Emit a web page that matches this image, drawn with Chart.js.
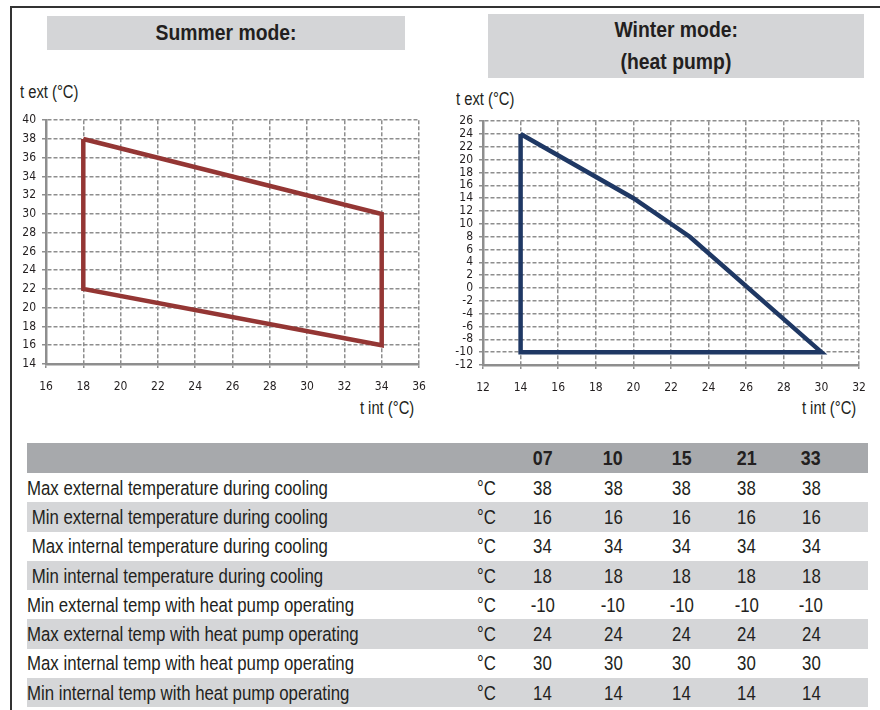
<!DOCTYPE html>
<html>
<head>
<meta charset="utf-8">
<script src="https://cdn.jsdelivr.net/npm/chart.js@4.4.1/dist/chart.umd.min.js"></script>
<style>
  body { margin: 0; background: #fff; width: 880px; height: 710px; overflow: hidden; position: relative;
         font-family: 'Liberation Sans', Arial, sans-serif; color: #231f20; }
  .frame-top { position: absolute; left: 10px; top: 6px; width: 870px; height: 0; border-top: 2px solid #333; }
  .frame-left { position: absolute; left: 10px; top: 6px; width: 0; height: 704px; border-left: 2px solid #333; }
  .head { position: absolute; background: #d4d5d7; font-weight: bold; font-size: 22px; text-align: center; color: #231f20; }
  .head span { display: inline-block; transform: scaleX(0.88); }
  .lbl { position: absolute; font-size: 18px; white-space: nowrap; transform: scaleX(0.82); }
  canvas { position: absolute; }
  table { position: absolute; left: 27px; top: 443px; width: 841px; border-collapse: collapse; table-layout: fixed; }
  td { padding: 0; height: 29.3px; font-size: 20.5px; white-space: pre; overflow: visible; }
  td span { display: inline-block; transform: scaleX(0.82); transform-origin: left center; }
  td.num span { transform-origin: center center; }
  tr.top td { background: #a7a9ac; font-weight: bold; font-size: 21px; height: 30px; }
  tr.top td span { transform: scaleX(0.85); }
  tr.alt td { background: #d5d6d8; }
  td.num { text-align: center; }
</style>
</head>
<body>
<div class="frame-top"></div>
<div class="frame-left"></div>

<div class="head" style="left:47px;top:16px;width:358px;height:34px;line-height:34px;"><span>Summer mode:</span></div>
<div class="head" style="left:488px;top:14px;width:376px;height:64px;line-height:32px;"><span>Winter mode:</span><br><span>(heat pump)</span></div>

<div class="lbl" style="left:20px;top:82px;transform-origin:left top;">t ext (°C)</div>
<div class="lbl" style="left:456px;top:89px;transform-origin:left top;">t ext (°C)</div>
<div class="lbl" style="right:466px;top:398px;transform-origin:right top;">t int (°C)</div>
<div class="lbl" style="right:24px;top:398px;transform-origin:right top;">t int (°C)</div>

<canvas id="summer" width="440" height="300" style="left:0;top:107px;"></canvas>
<canvas id="winter" width="440" height="300" style="left:440px;top:108px;"></canvas>

<table id="tab"></table>

<script>
// operating limits (t int on x, t ext on y)
var summerTint = [18, 34, 34, 18, 18];
var summerText = [38, 30, 16, 22, 38];
var winterTint = [14, 20, 23, 30, 14, 14];
var winterText = [24, 14, 8, -10, -10, 24];

// table
var models = ['07', '10', '15', '21', '33'];
var rowLabels = [
  'Max external temperature during cooling',
  ' Min external temperature during cooling',
  ' Max internal temperature during cooling',
  ' Min internal temperature during cooling',
  'Min external temp with heat pump operating',
  'Max external temp with heat pump operating',
  'Max internal temp with heat pump operating',
  'Min internal temp with heat pump operating'
];
var rowValues = [
  [38, 38, 38, 38, 38],
  [16, 16, 16, 16, 16],
  [34, 34, 34, 34, 34],
  [18, 18, 18, 18, 18],
  [-10, -10, -10, -10, -10],
  [24, 24, 24, 24, 24],
  [30, 30, 30, 30, 30],
  [14, 14, 14, 14, 14]
];

var FONT = "'DejaVu Sans Condensed', 'Liberation Sans Narrow', sans-serif";
var gridCol = '#8e8e8e';

function makeChart(id, xs, ys, color, xr, yr, yWidth) {
  var pts = xs.map(function (x, i) { return { x: x, y: ys[i] }; });
  return new Chart(document.getElementById(id), {
    type: 'scatter',
    data: {
      datasets: [{
        data: pts,
        showLine: true,
        borderColor: color,
        borderWidth: 4.5,
        pointRadius: 0,
        tension: 0,
        fill: false
      }]
    },
    options: {
      responsive: false,
      animation: false,
      layout: { padding: { left: 0, top: 4, right: 21, bottom: 0 } },
      plugins: { legend: { display: false }, tooltip: { enabled: false } },
      scales: {
        x: {
          type: 'linear', min: xr[0], max: xr[1],
          afterFit: function (s) { s.height = 43; },
          ticks: { stepSize: 2, color: '#231f20', font: { family: FONT, size: 12 }, padding: 12, maxRotation: 0 },
          grid: { color: gridCol, lineWidth: 1.5, tickLength: 4 },
          border: { color: gridCol, width: 2.5, dash: [4, 2] }
        },
        y: {
          type: 'linear', min: yr[0], max: yr[1],
          afterFit: function (s) { s.width = yWidth; },
          ticks: { stepSize: 2, autoSkip: false, color: '#231f20', font: { family: FONT, size: 12 }, padding: 6 },
          grid: { color: gridCol, lineWidth: 1.5, tickLength: 4 },
          border: { color: gridCol, width: 2.5, dash: [4, 2] }
        }
      }
    }
  });
}

makeChart('summer', summerTint, summerText, '#943634', [16, 36], [14, 40], 46);
makeChart('winter', winterTint, winterText, '#1f3864', [12, 32], [-12, 26], 43);

// build table
var tab = document.getElementById('tab');
var colW = [440, 40, 71, 70, 67, 63, 66, 24];
var cg = '<colgroup>' + colW.map(function (w) { return '<col style="width:' + w + 'px">'; }).join('') + '</colgroup>';
function cell(txt, cls) {
  return '<td' + (cls ? ' class="' + cls + '"' : '') + '><span>' + txt + '</span></td>';
}
var html = cg + '<tr class="top"><td></td><td></td>' +
  models.map(function (m) { return cell(m, 'num'); }).join('') + '<td></td></tr>';
rowLabels.forEach(function (lab, i) {
  html += '<tr' + (i % 2 === 1 ? ' class="alt"' : '') + '>' + cell(lab) + cell('°C', 'num') +
    rowValues[i].map(function (v) { return cell(v, 'num'); }).join('') + '<td></td></tr>';
});
tab.innerHTML = html;
</script>
</body>
</html>
